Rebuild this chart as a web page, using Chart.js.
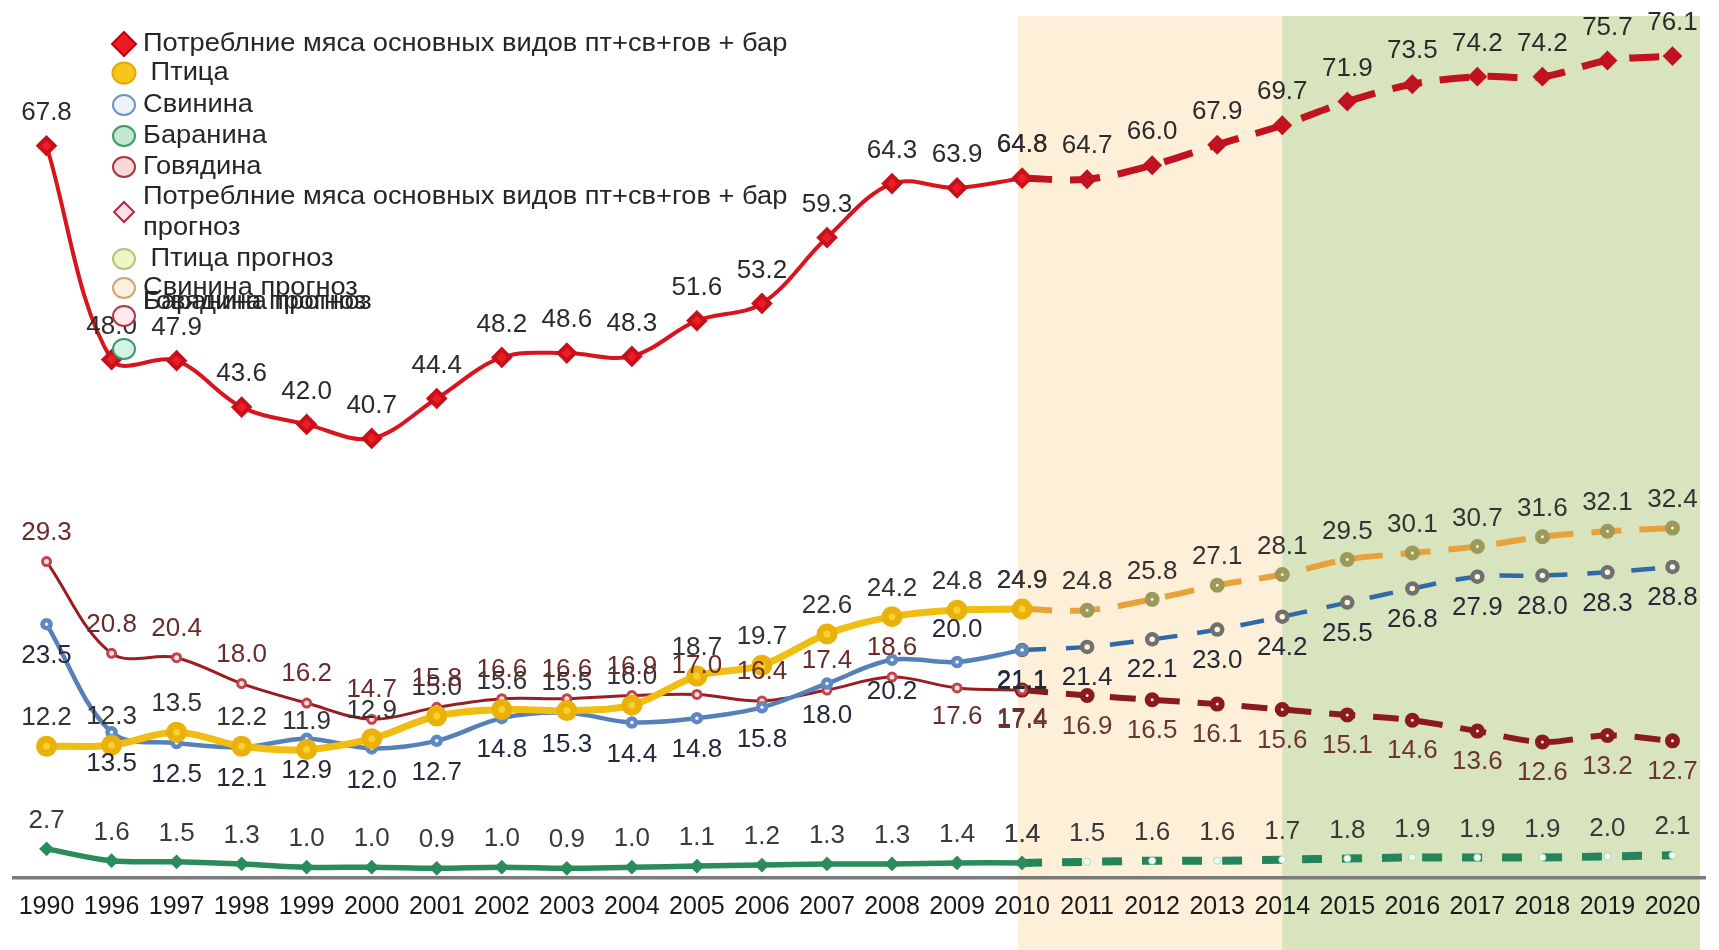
<!DOCTYPE html>
<html>
<head>
<meta charset="utf-8">
<script src="https://cdn.jsdelivr.net/npm/chart.js@4.4.0/dist/chart.umd.min.js"></script>
<style>
  html, body { margin: 0; padding: 0; background: #fff; }
  #wrap { width: 1719px; height: 950px; }
</style>
</head>
<body>
<div id="wrap"><canvas id="meatChart"></canvas></div>
<script>
const years = ['1990', '1996', '1997', '1998', '1999', '2000', '2001', '2002', '2003', '2004', '2005',
    '2006', '2007', '2008', '2009', '2010', '2011', '2012', '2013', '2014', '2015', '2016', '2017',
    '2018', '2019', '2020'];

// fact 1990-2010
const totalFact = [67.8, 48.0, 47.9, 43.6, 42.0, 40.7, 44.4, 48.2, 48.6, 48.3, 51.6, 53.2, 59.3, 64.3, 63.9, 64.8];
const poultryFact = [12.2, 12.3, 13.5, 12.2, 11.9, 12.9, 15.0, 15.6, 15.5, 16.0, 18.7, 19.7, 22.6, 24.2, 24.8, 24.9];
const porkFact = [23.5, 13.5, 12.5, 12.1, 12.9, 12.0, 12.7, 14.8, 15.3, 14.4, 14.8, 15.8, 18.0, 20.2, 20.0, 21.1];
const lambFact = [2.7, 1.6, 1.5, 1.3, 1.0, 1.0, 0.9, 1.0, 0.9, 1.0, 1.1, 1.2, 1.3, 1.3, 1.4, 1.4];
const beefFact = [29.3, 20.8, 20.4, 18.0, 16.2, 14.7, 15.8, 16.6, 16.6, 16.9, 17.0, 16.4, 17.4, 18.6, 17.6, 17.4];

// forecast 2010-2020
const totalPlan = [64.8, 64.7, 66.0, 67.9, 69.7, 71.9, 73.5, 74.2, 74.2, 75.7, 76.1];
const poultryPlan = [24.9, 24.8, 25.8, 27.1, 28.1, 29.5, 30.1, 30.7, 31.6, 32.1, 32.4];
const porkPlan = [21.1, 21.4, 22.1, 23.0, 24.2, 25.5, 26.8, 27.9, 28.0, 28.3, 28.8];
const beefPlan = [17.4, 16.9, 16.5, 16.1, 15.6, 15.1, 14.6, 13.6, 12.6, 13.2, 12.7];
const lambPlan = [1.4, 1.5, 1.6, 1.6, 1.7, 1.8, 1.9, 1.9, 1.9, 2.0, 2.1];

const FONT = '"Liberation Sans", Arial, sans-serif';

function fact(values) {
    return values.concat(Array(years.length - values.length).fill(null));
}
function plan(values) {
    return Array(years.length - values.length).fill(null).concat(values);
}

// shaded forecast periods behind everything
const zones = {
    id: 'zones',
    beforeDraw(chart) {
        const { ctx, chartArea, scales: { x } } = chart;
        const a = x.getPixelForValue(years.indexOf('2010')) - 4;
        const b = x.getPixelForValue(years.indexOf('2014'));
        const c = chartArea.right - 5;
        const top = chartArea.top + 2;
        ctx.save();
        ctx.fillStyle = '#fdefd8';
        ctx.fillRect(a, top, b - a, chart.height - top);
        ctx.fillStyle = '#d7e4bd';
        ctx.fillRect(b, top, c - b, chart.height - top);
        ctx.restore();
    }
};

// value labels over / under the points
const valueLabels = {
    id: 'valueLabels',
    afterDatasetsDraw(chart) {
        const ctx = chart.ctx;
        ctx.save();
        ctx.font = '26px ' + FONT;
        ctx.textAlign = 'center';
        ctx.textBaseline = 'middle';
        chart.data.datasets.forEach((ds, i) => {
            if (!ds.tag) return;
            const meta = chart.getDatasetMeta(i);
            meta.data.forEach((pt, j) => {
                const v = ds.data[j];
                if (v === null) return;
                let pos = ds.tag.pos;
                if (ds.tag.flip && ds.tag.flip.includes(j)) pos = pos === 'up' ? 'down' : 'up';
                const dy = pos === 'up' ? -ds.tag.gap : ds.tag.gap;
                ctx.fillStyle = ds.tag.color;
                ctx.fillText(v.toFixed(1), pt.x, pt.y + dy);
            });
        });
        ctx.restore();
    }
};

// legend drawn over the plot, top left
const keyRows = [
    { y: 44, shape: 'diamond', r: 12, fill: '#e81c24', stroke: '#c00010' },
    { y: 73, r: 10.5, fill: '#f6c61c', stroke: '#e3a905', lead: ' ' },
    { y: 105, r: 10, fill: '#eef3fb', stroke: '#6f93c4' },
    { y: 136, r: 10, fill: '#c3e8d2', stroke: '#3b9a68' },
    { y: 167, r: 10, fill: '#fbd8d8', stroke: '#a33a3a' },
    { y: 212, shape: 'diamond', r: 10, fill: '#fde2e8', stroke: '#b8283a', lines: [197, 228] },
    { y: 259, r: 10, fill: '#eef5c6', stroke: '#b9c27a', lead: ' ' },
    { y: 288, r: 10, fill: '#fdf0dc', stroke: '#c8a878' },
    { y: 316, r: 10, fill: '#ffe8ee', stroke: '#b03a4a', textY: 302 },
    { y: 349, r: 10, fill: '#d3f3e6', stroke: '#3a9a6a', textY: 302 }
];

function wideText(ctx, text, x, y) {
    ctx.save();
    ctx.translate(x, y);
    ctx.scale(1.09, 1);
    ctx.fillText(text, 0, 0);
    ctx.restore();
}

const overlayKey = {
    id: 'overlayKey',
    afterDraw(chart) {
        const ctx = chart.ctx;
        const mx = 124, tx = 143;
        ctx.save();
        ctx.font = '25px ' + FONT;
        ctx.textBaseline = 'middle';
        ctx.textAlign = 'left';
        keyRows.forEach((row, i) => {
            const label = chart.data.datasets[i].label;
            ctx.lineWidth = 2;
            ctx.fillStyle = row.fill;
            ctx.strokeStyle = row.stroke;
            ctx.beginPath();
            if (row.shape === 'diamond') {
                ctx.moveTo(mx, row.y - row.r);
                ctx.lineTo(mx + row.r, row.y);
                ctx.lineTo(mx, row.y + row.r);
                ctx.lineTo(mx - row.r, row.y);
                ctx.closePath();
            } else {
                ctx.ellipse(mx, row.y, row.r + 1, row.r, 0, 0, Math.PI * 2);
            }
            ctx.fill();
            ctx.stroke();

            ctx.fillStyle = '#262626';
            if (row.lines) {
                const words = label.split(' ');
                const last = words.pop();
                wideText(ctx, words.join(' '), tx, row.lines[0]);
                wideText(ctx, last, tx, row.lines[1]);
            } else {
                wideText(ctx, (row.lead || '') + label, tx, row.textY || row.y);
            }
        });
        ctx.restore();
    }
};

const ctx = document.getElementById('meatChart').getContext('2d');
const meatChart = new Chart(ctx, {
    type: 'line',
    data: {
        labels: years,
        datasets: [{
            label: 'Потреблние мяса основных видов пт+св+гов + бар',
            data: fact(totalFact),
            borderColor: '#d8141f',
            borderWidth: 4,
            pointStyle: 'rectRot',
            pointRadius: 8,
            pointBackgroundColor: '#ee1c25',
            pointBorderColor: '#c8101a',
            tag: { pos: 'up', gap: 33, color: '#2b2b2b' }
        }, {
            label: 'Птица',
            data: fact(poultryFact),
            borderColor: '#f2bd12',
            borderWidth: 7,
            pointRadius: 7,
            pointBackgroundColor: '#f8d12e',
            pointBorderColor: '#e9b10a',
            tag: { pos: 'up', gap: 28, color: '#333333' }
        }, {
            label: 'Свинина',
            data: fact(porkFact),
            borderColor: '#5580b8',
            borderWidth: 4.5,
            pointRadius: 4,
            pointBackgroundColor: '#f4f8ff',
            pointBorderColor: '#5f88c0',
            tag: { pos: 'down', gap: 32, color: '#232a3a', flip: [14] }
        }, {
            label: 'Баранина',
            data: fact(lambFact),
            borderColor: '#2a8c5a',
            borderWidth: 5.5,
            pointStyle: 'rectRot',
            pointRadius: 3.5,
            pointBackgroundColor: '#e8fff2',
            pointBorderColor: '#2a8c5a',
            tag: { pos: 'up', gap: 28, color: '#3a3a3a' }
        }, {
            label: 'Говядина',
            data: fact(beefFact),
            borderColor: '#9a1d23',
            borderWidth: 3,
            pointRadius: 4,
            pointBackgroundColor: '#ffe0e0',
            pointBorderColor: '#c2434a',
            tag: { pos: 'up', gap: 29, color: '#6a2b2b', flip: [14, 15] }
        }, {
            label: 'Потреблние мяса основных видов пт+св+гов + бар прогноз',
            data: plan(totalPlan),
            borderColor: '#c0121f',
            borderWidth: 7,
            borderDash: [30, 18],
            pointStyle: 'rectRot',
            pointRadius: 5,
            pointBackgroundColor: '#fff0f0',
            pointBorderColor: '#c0121f',
            tag: { pos: 'up', gap: 33, color: '#2b2b2b' }
        }, {
            label: 'Птица прогноз',
            data: plan(poultryPlan),
            borderColor: '#e9a23b',
            borderWidth: 6,
            borderDash: [30, 18],
            pointRadius: 4.5,
            pointBackgroundColor: '#f2f7c8',
            pointBorderColor: '#9c9a5a',
            tag: { pos: 'up', gap: 28, color: '#333333' }
        }, {
            label: 'Свинина прогноз',
            data: plan(porkPlan),
            borderColor: '#2f6aa8',
            borderWidth: 4.5,
            borderDash: [24, 20],
            pointRadius: 5,
            pointBackgroundColor: '#fdf5dc',
            pointBorderColor: '#707070',
            tag: { pos: 'down', gap: 31, color: '#232a3a' }
        }, {
            label: 'Говядина прогноз',
            data: plan(beefPlan),
            borderColor: '#8a1a1e',
            borderWidth: 6,
            borderDash: [26, 18],
            pointRadius: 4.5,
            pointBackgroundColor: '#ffe0e0',
            pointBorderColor: '#8a1a1e',
            tag: { pos: 'down', gap: 31, color: '#6a3535' }
        }, {
            label: 'Баранина прогноз',
            data: plan(lambPlan),
            borderColor: '#24855a',
            borderWidth: 8,
            borderDash: [20, 20],
            pointRadius: 3.5,
            pointBackgroundColor: '#f4fff8',
            pointBorderColor: '#a8dcc0',
            pointBorderWidth: 1,
            tag: { pos: 'up', gap: 28, color: '#3a3a3a' }
        }]
    },
    options: {
        responsive: true,
        maintainAspectRatio: false,
        animation: false,
        elements: {
            line: { tension: 0.35 },
            point: { borderWidth: 1.5 }
        },
        layout: {
            padding: { left: 7, right: 9, top: 11, bottom: 14 }
        },
        scales: {
            x: {
                offset: true,
                grid: { display: false, drawTicks: false },
                border: { display: true, color: '#7a7a7a', width: 3.5 },
                ticks: {
                    color: '#1a1a1a',
                    font: { family: FONT, size: 25 },
                    padding: 14,
                    maxRotation: 0,
                    autoSkip: false
                }
            },
            y: {
                display: false,
                min: 0,
                max: 80
            }
        },
        plugins: {
            legend: { display: false },
            tooltip: { enabled: false }
        }
    },
    plugins: [zones, valueLabels, overlayKey]
});
</script>
</body>
</html>
